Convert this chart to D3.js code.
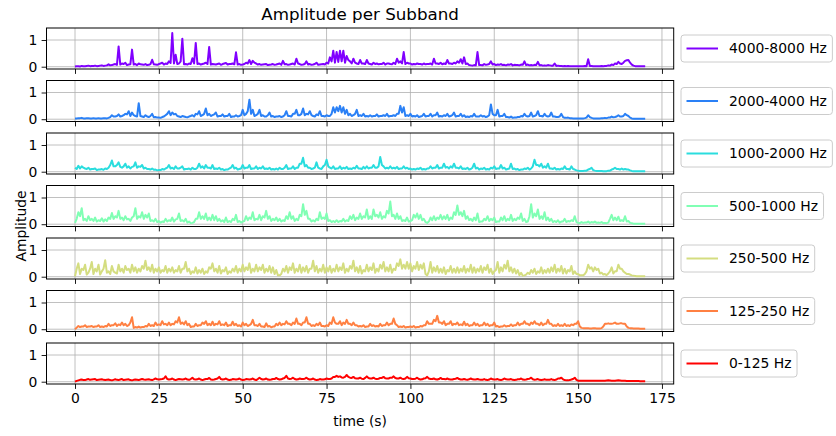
<!DOCTYPE html>
<html><head><meta charset="utf-8">
<script src="https://cdn.jsdelivr.net/npm/d3@7"></script>
<style>body{margin:0;background:#fff}svg{display:block}text{font-family:"DejaVu Sans",sans-serif;fill:#000}</style>
</head><body><svg id="c" width="836" height="436"></svg>
<script>
// ---- data ----
// values read at whole seconds (0..170) and at half seconds (0.5..169.5)
const secondsWhole = d3.range(0, 171);
const secondsHalf = d3.range(0.5, 170, 1);
const bandLabels = ["4000-8000 Hz","2000-4000 Hz","1000-2000 Hz","500-1000 Hz","250-500 Hz","125-250 Hz","0-125 Hz"];
const bandColors = ["#8000ff","#2a80f6","#2addde","#80ffb4","#d4dd80","#ff8042","#ff0000"];
const xTicks = [0,25,50,75,100,125,150,175];
const yTicks = [0,1];

const amp4000 = [0.01,0.02,0.03,0.02,0.04,0.03,0.04,0.03,0.05,0.04,
0.09,0.06,0.1,0.76,0.12,0.15,0.08,0.64,0.1,0.12,
0.08,0.1,0.07,0.26,0.08,0.1,0.15,0.12,0.2,1.26,
0.45,0.12,1.05,0.1,0.12,0.32,0.89,0.12,0.1,0.15,
0.74,0.1,0.08,0.12,0.1,0.14,0.1,0.12,0.54,0.1,
0.08,0.15,0.25,0.22,0.12,0.1,0.08,0.1,0.07,0.1,
0.08,0.12,0.22,0.1,0.08,0.12,0.3,0.1,0.08,0.2,
0.1,0.08,0.15,0.08,0.1,0.15,0.35,0.6,0.55,0.6,
0.6,0.4,0.2,0.3,0.12,0.25,0.12,0.25,0.1,0.15,
0.12,0.1,0.15,0.12,0.1,0.15,0.3,0.2,0.55,0.15,
0.12,0.1,0.12,0.1,0.12,0.1,0.12,0.3,0.12,0.15,
0.12,0.25,0.12,0.15,0.2,0.28,0.35,0.12,0.05,0.06,
0.55,0.06,0.1,0.08,0.2,0.1,0.08,0.1,0.07,0.08,
0.1,0.07,0.06,0.08,0.2,0.08,0.06,0.07,0.18,0.06,
0.05,0.06,0.04,0.12,0.04,0.03,0.03,0.03,0.02,0.02,
0.02,0.02,0.03,0.28,0.03,0.02,0.02,0.03,0.03,0.05,
0.08,0.12,0.18,0.1,0.22,0.25,0.08,0.02,0.02,0.02,
0.02];
const amp4000Half = [0.02,0.01,0.02,0.03,0.02,0.03,0.02,0.04,0.03,0.05,
0.05,0.08,0.07,0.08,0.1,0.06,0.09,0.08,0.06,0.09,
0.07,0.06,0.1,0.09,0.07,0.12,0.08,0.1,0.14,0.12,
0.1,0.2,0.09,0.08,0.1,0.12,0.1,0.08,0.12,0.1,
0.08,0.09,0.1,0.07,0.12,0.08,0.1,0.09,0.08,0.07,
0.1,0.12,0.1,0.15,0.08,0.07,0.09,0.06,0.08,0.07,
0.1,0.07,0.09,0.07,0.1,0.08,0.12,0.07,0.1,0.08,
0.07,0.1,0.07,0.09,0.08,0.12,0.2,0.15,0.18,0.2,
0.15,0.25,0.12,0.15,0.1,0.12,0.1,0.12,0.08,0.1,
0.09,0.1,0.08,0.12,0.09,0.1,0.15,0.12,0.1,0.12,
0.08,0.09,0.1,0.08,0.09,0.1,0.08,0.12,0.1,0.09,
0.1,0.12,0.1,0.12,0.15,0.12,0.1,0.06,0.04,0.05,
0.06,0.05,0.07,0.1,0.08,0.06,0.07,0.06,0.05,0.07,
0.05,0.06,0.05,0.07,0.06,0.05,0.05,0.06,0.05,0.04,
0.04,0.05,0.04,0.03,0.03,0.02,0.02,0.02,0.02,0.02,
0.02,0.02,0.02,0.03,0.02,0.02,0.02,0.02,0.03,0.04,
0.06,0.1,0.12,0.15,0.24,0.15,0.04,0.02,0.02,0.02];

const amp2000 = [0.03,0.04,0.05,0.03,0.04,0.03,0.03,0.04,0.03,0.04,
0.05,0.15,0.1,0.18,0.12,0.2,0.3,0.25,0.12,0.6,
0.1,0.15,0.08,0.2,0.08,0.06,0.08,0.15,0.3,0.25,
0.2,0.1,0.12,0.08,0.1,0.15,0.2,0.3,0.15,0.4,
0.2,0.15,0.25,0.12,0.18,0.12,0.2,0.1,0.15,0.12,
0.35,0.2,0.73,0.35,0.15,0.35,0.15,0.1,0.25,0.12,
0.1,0.12,0.1,0.3,0.12,0.2,0.35,0.15,0.4,0.2,
0.3,0.12,0.18,0.3,0.12,0.15,0.12,0.45,0.45,0.5,
0.45,0.35,0.2,0.15,0.35,0.15,0.2,0.12,0.15,0.12,
0.18,0.12,0.15,0.2,0.12,0.15,0.2,0.5,0.45,0.15,
0.2,0.12,0.15,0.1,0.2,0.12,0.2,0.15,0.25,0.12,
0.15,0.2,0.12,0.25,0.12,0.2,0.15,0.1,0.12,0.2,
0.1,0.15,0.12,0.1,0.55,0.15,0.35,0.12,0.2,0.08,
0.1,0.06,0.08,0.12,0.2,0.1,0.25,0.12,0.3,0.12,
0.2,0.1,0.25,0.1,0.08,0.2,0.05,0.06,0.04,0.03,
0.03,0.03,0.04,0.15,0.05,0.03,0.03,0.04,0.05,0.06,
0.1,0.08,0.15,0.1,0.2,0.12,0.03,0.02,0.02,0.02,
0.02];
const amp2000Half = [0.03,0.04,0.03,0.04,0.03,0.04,0.03,0.03,0.04,0.03,
0.08,0.1,0.12,0.1,0.15,0.18,0.12,0.15,0.1,0.12,
0.08,0.1,0.12,0.07,0.06,0.05,0.1,0.2,0.15,0.18,
0.12,0.08,0.1,0.07,0.12,0.1,0.18,0.12,0.2,0.15,
0.12,0.18,0.1,0.12,0.1,0.12,0.08,0.1,0.1,0.15,
0.15,0.3,0.2,0.12,0.2,0.12,0.1,0.15,0.1,0.08,
0.1,0.08,0.15,0.12,0.1,0.2,0.15,0.2,0.15,0.18,
0.15,0.1,0.15,0.12,0.1,0.12,0.2,0.25,0.3,0.25,
0.2,0.15,0.12,0.2,0.12,0.12,0.1,0.1,0.1,0.12,
0.1,0.12,0.12,0.1,0.12,0.12,0.2,0.25,0.12,0.12,
0.1,0.1,0.08,0.12,0.1,0.12,0.1,0.15,0.1,0.1,
0.12,0.1,0.15,0.1,0.12,0.1,0.08,0.08,0.1,0.1,
0.1,0.1,0.08,0.15,0.2,0.15,0.1,0.12,0.08,0.06,
0.05,0.06,0.08,0.1,0.12,0.12,0.1,0.15,0.12,0.1,
0.12,0.12,0.1,0.08,0.1,0.08,0.05,0.04,0.03,0.03,
0.03,0.03,0.06,0.08,0.03,0.03,0.03,0.04,0.04,0.06,
0.07,0.1,0.1,0.12,0.15,0.06,0.02,0.02,0.02,0.02];

const amp1000 = [0.15,0.22,0.2,0.12,0.15,0.1,0.12,0.08,0.1,0.12,
0.15,0.42,0.2,0.35,0.15,0.3,0.2,0.18,0.35,0.2,
0.25,0.15,0.1,0.12,0.08,0.06,0.1,0.12,0.25,0.15,
0.2,0.12,0.2,0.1,0.12,0.15,0.1,0.3,0.2,0.25,
0.15,0.25,0.12,0.15,0.1,0.08,0.12,0.25,0.15,0.1,
0.25,0.15,0.25,0.12,0.2,0.15,0.2,0.12,0.15,0.1,
0.12,0.15,0.1,0.25,0.12,0.2,0.15,0.3,0.52,0.25,
0.15,0.12,0.35,0.12,0.2,0.45,0.15,0.2,0.12,0.2,
0.15,0.18,0.12,0.15,0.22,0.12,0.18,0.2,0.15,0.25,
0.15,0.55,0.2,0.15,0.2,0.15,0.18,0.12,0.2,0.15,
0.12,0.1,0.12,0.15,0.1,0.12,0.2,0.15,0.25,0.15,
0.3,0.18,0.2,0.3,0.15,0.2,0.12,0.15,0.1,0.3,
0.15,0.12,0.15,0.1,0.15,0.2,0.12,0.25,0.15,0.1,
0.3,0.12,0.1,0.08,0.12,0.15,0.12,0.45,0.25,0.3,
0.2,0.3,0.12,0.15,0.1,0.12,0.2,0.1,0.2,0.08,
0.04,0.03,0.04,0.08,0.15,0.04,0.03,0.03,0.02,0.04,
0.08,0.15,0.1,0.12,0.1,0.08,0.03,0.02,0.02,0.02,
0.02];
const amp1000Half = [0.1,0.12,0.15,0.1,0.08,0.1,0.06,0.08,0.07,0.1,
0.25,0.2,0.25,0.18,0.2,0.15,0.12,0.2,0.15,0.18,
0.12,0.1,0.08,0.07,0.05,0.06,0.08,0.15,0.12,0.1,
0.12,0.15,0.08,0.1,0.08,0.1,0.15,0.15,0.12,0.15,
0.12,0.1,0.1,0.08,0.06,0.08,0.15,0.12,0.08,0.12,
0.12,0.15,0.1,0.12,0.1,0.12,0.1,0.1,0.08,0.08,
0.08,0.1,0.15,0.1,0.12,0.1,0.15,0.3,0.2,0.15,
0.1,0.15,0.15,0.1,0.25,0.2,0.12,0.1,0.12,0.1,
0.12,0.1,0.1,0.12,0.12,0.1,0.12,0.12,0.15,0.15,
0.2,0.25,0.12,0.12,0.12,0.12,0.1,0.12,0.12,0.1,
0.08,0.08,0.1,0.08,0.08,0.12,0.12,0.15,0.12,0.15,
0.15,0.12,0.15,0.15,0.12,0.1,0.1,0.08,0.15,0.12,
0.08,0.1,0.08,0.08,0.12,0.1,0.12,0.12,0.08,0.12,
0.1,0.08,0.06,0.08,0.1,0.08,0.2,0.25,0.2,0.15,
0.15,0.12,0.1,0.08,0.08,0.1,0.1,0.08,0.1,0.05,
0.03,0.03,0.04,0.1,0.06,0.03,0.03,0.02,0.02,0.04,
0.1,0.1,0.08,0.08,0.08,0.05,0.02,0.02,0.02,0.02];

const amp500 = [0.05,0.45,0.6,0.2,0.3,0.2,0.25,0.15,0.22,0.18,
0.25,0.42,0.3,0.5,0.25,0.3,0.2,0.25,0.6,0.3,
0.45,0.35,0.4,0.15,0.2,0.12,0.1,0.2,0.15,0.25,
0.18,0.4,0.15,0.2,0.1,0.05,0.2,0.45,0.3,0.4,
0.25,0.35,0.3,0.2,0.15,0.25,0.12,0.2,0.35,0.12,
0.1,0.3,0.25,0.45,0.2,0.35,0.3,0.5,0.3,0.2,
0.25,0.2,0.15,0.3,0.45,0.3,0.2,0.35,0.75,0.5,
0.2,0.15,0.2,0.45,0.25,0.4,0.15,0.12,0.15,0.12,
0.2,0.15,0.3,0.35,0.25,0.4,0.3,0.55,0.3,0.55,
0.35,0.45,0.3,0.5,0.85,0.35,0.4,0.3,0.15,0.25,
0.12,0.35,0.4,0.35,0.2,0.05,0.25,0.3,0.25,0.35,
0.3,0.35,0.25,0.45,0.7,0.45,0.5,0.3,0.2,0.25,
0.4,0.1,0.2,0.3,0.2,0.25,0.1,0.25,0.3,0.2,
0.35,0.2,0.25,0.4,0.2,0.1,0.75,0.4,0.55,0.3,
0.45,0.25,0.2,0.12,0.15,0.1,0.2,0.12,0.15,0.3,
0.05,0.08,0.06,0.1,0.08,0.1,0.06,0.08,0.05,0.06,
0.35,0.25,0.28,0.15,0.3,0.12,0.04,0.02,0.02,0.02,
0.02];
const amp500Half = [0.2,0.3,0.15,0.12,0.15,0.12,0.1,0.12,0.1,0.12,
0.2,0.2,0.25,0.2,0.15,0.18,0.12,0.3,0.2,0.25,
0.2,0.25,0.12,0.1,0.08,0.06,0.08,0.1,0.12,0.1,
0.2,0.12,0.1,0.06,0.04,0.08,0.2,0.2,0.2,0.15,
0.15,0.15,0.12,0.1,0.08,0.08,0.08,0.15,0.08,0.06,
0.12,0.15,0.2,0.15,0.18,0.15,0.25,0.2,0.12,0.15,
0.12,0.1,0.12,0.2,0.2,0.12,0.15,0.3,0.35,0.2,
0.1,0.1,0.15,0.2,0.2,0.12,0.08,0.08,0.08,0.1,
0.1,0.12,0.2,0.15,0.2,0.2,0.25,0.2,0.2,0.3,
0.25,0.2,0.25,0.4,0.3,0.2,0.2,0.12,0.12,0.1,
0.15,0.25,0.2,0.15,0.08,0.1,0.15,0.15,0.2,0.18,
0.2,0.15,0.2,0.35,0.35,0.3,0.2,0.15,0.12,0.15,
0.08,0.1,0.15,0.12,0.15,0.08,0.1,0.15,0.12,0.15,
0.12,0.15,0.2,0.12,0.08,0.3,0.25,0.3,0.2,0.2,
0.15,0.12,0.08,0.08,0.06,0.1,0.08,0.1,0.12,0.08,
0.04,0.05,0.06,0.05,0.06,0.05,0.05,0.04,0.04,0.2,
0.15,0.15,0.12,0.12,0.1,0.05,0.02,0.02,0.02,0.02];

const amp250 = [0.02,0.5,0.3,0.45,0.15,0.55,0.3,0.45,0.2,0.62,
0.2,0.4,0.15,0.45,0.3,0.4,0.3,0.45,0.35,0.3,
0.4,0.6,0.35,0.45,0.3,0.35,0.25,0.4,0.3,0.35,
0.25,0.4,0.3,0.55,0.3,0.2,0.35,0.25,0.3,0.2,
0.35,0.5,0.3,0.4,0.25,0.35,0.2,0.3,0.4,0.3,
0.45,0.35,0.5,0.3,0.45,0.35,0.45,0.3,0.4,0.35,
0.25,0.05,0.3,0.4,0.35,0.5,0.3,0.45,0.35,0.4,
0.3,0.6,0.4,0.3,0.45,0.35,0.4,0.3,0.45,0.35,
0.5,0.3,0.4,0.6,0.35,0.4,0.25,0.45,0.35,0.5,
0.3,0.45,0.55,0.35,0.45,0.3,0.5,0.65,0.45,0.55,
0.5,0.4,0.55,0.45,0.5,0.05,0.55,0.35,0.4,0.3,
0.35,0.25,0.4,0.3,0.35,0.3,0.4,0.3,0.45,0.35,
0.3,0.4,0.35,0.45,0.3,0.2,0.55,0.35,0.45,0.6,
0.35,0.3,0.25,0.15,0.05,0.15,0.25,0.3,0.2,0.35,
0.25,0.3,0.35,0.45,0.3,0.4,0.3,0.25,0.4,0.2,
0.1,0.05,0.1,0.45,0.35,0.35,0.3,0.15,0.1,0.12,
0.35,0.2,0.45,0.3,0.15,0.1,0.05,0.03,0.02,0.02,
0.02];
const amp250Half = [0.3,0.1,0.25,0.08,0.3,0.1,0.2,0.08,0.3,0.15,
0.1,0.2,0.12,0.2,0.15,0.25,0.15,0.2,0.15,0.2,
0.3,0.25,0.2,0.15,0.2,0.15,0.2,0.15,0.2,0.15,
0.2,0.15,0.3,0.2,0.1,0.15,0.12,0.15,0.1,0.15,
0.3,0.2,0.15,0.12,0.2,0.1,0.15,0.2,0.15,0.2,
0.2,0.25,0.15,0.2,0.2,0.25,0.15,0.2,0.15,0.1,
0.05,0.1,0.2,0.15,0.25,0.15,0.2,0.15,0.2,0.15,
0.3,0.2,0.15,0.2,0.15,0.2,0.15,0.2,0.2,0.25,
0.15,0.2,0.3,0.2,0.15,0.12,0.2,0.2,0.25,0.15,
0.2,0.3,0.2,0.2,0.15,0.25,0.4,0.3,0.3,0.3,
0.2,0.3,0.25,0.3,0.1,0.2,0.15,0.2,0.15,0.15,
0.1,0.2,0.15,0.15,0.15,0.2,0.15,0.2,0.15,0.15,
0.2,0.15,0.25,0.15,0.1,0.25,0.15,0.2,0.3,0.2,
0.15,0.12,0.06,0.04,0.08,0.1,0.15,0.1,0.15,0.12,
0.15,0.15,0.2,0.15,0.2,0.12,0.12,0.2,0.1,0.1,
0.05,0.05,0.2,0.3,0.2,0.25,0.12,0.08,0.06,0.2,
0.12,0.2,0.3,0.2,0.1,0.08,0.04,0.02,0.02,0.02];

const amp125 = [0.0,0.12,0.1,0.15,0.1,0.12,0.1,0.15,0.1,0.12,
0.2,0.15,0.22,0.18,0.25,0.2,0.15,0.45,0.08,0.1,
0.08,0.12,0.2,0.15,0.25,0.18,0.3,0.2,0.25,0.2,
0.3,0.45,0.25,0.3,0.2,0.1,0.2,0.15,0.25,0.3,
0.2,0.28,0.2,0.3,0.18,0.25,0.15,0.28,0.2,0.15,
0.25,0.2,0.15,0.35,0.15,0.2,0.1,0.22,0.12,0.1,
0.2,0.25,0.2,0.3,0.2,0.25,0.4,0.2,0.25,0.45,
0.2,0.15,0.2,0.25,0.12,0.15,0.25,0.45,0.2,0.3,
0.25,0.35,0.2,0.25,0.15,0.12,0.15,0.1,0.2,0.15,
0.12,0.2,0.15,0.25,0.2,0.4,0.15,0.1,0.12,0.08,
0.1,0.12,0.08,0.12,0.15,0.3,0.2,0.35,0.5,0.25,
0.3,0.2,0.3,0.2,0.25,0.18,0.28,0.2,0.15,0.25,
0.2,0.15,0.25,0.2,0.15,0.25,0.12,0.1,0.15,0.12,
0.18,0.15,0.25,0.2,0.3,0.2,0.25,0.3,0.2,0.25,
0.2,0.35,0.2,0.15,0.2,0.15,0.2,0.15,0.18,0.2,
0.3,0.05,0.04,0.04,0.03,0.04,0.03,0.04,0.2,0.22,
0.2,0.25,0.2,0.22,0.2,0.05,0.04,0.03,0.03,0.02,
0.02];
const amp125Half = [0.06,0.08,0.1,0.08,0.1,0.08,0.1,0.08,0.08,0.1,
0.12,0.15,0.12,0.15,0.15,0.12,0.25,0.05,0.06,0.06,
0.08,0.1,0.12,0.12,0.15,0.15,0.18,0.15,0.15,0.18,
0.25,0.2,0.18,0.15,0.08,0.1,0.12,0.15,0.2,0.15,
0.15,0.15,0.18,0.15,0.15,0.12,0.15,0.15,0.12,0.1,
0.15,0.12,0.2,0.15,0.12,0.1,0.08,0.1,0.07,0.1,
0.15,0.15,0.18,0.2,0.15,0.2,0.2,0.15,0.25,0.2,
0.12,0.12,0.15,0.12,0.1,0.12,0.2,0.25,0.2,0.15,
0.2,0.2,0.15,0.15,0.1,0.1,0.08,0.1,0.12,0.1,
0.1,0.12,0.15,0.15,0.2,0.2,0.08,0.08,0.06,0.08,
0.08,0.06,0.08,0.1,0.15,0.2,0.2,0.3,0.25,0.2,
0.15,0.2,0.15,0.18,0.15,0.15,0.15,0.12,0.15,0.15,
0.12,0.15,0.15,0.12,0.15,0.1,0.08,0.1,0.1,0.12,
0.12,0.15,0.15,0.2,0.2,0.15,0.2,0.2,0.15,0.15,
0.2,0.2,0.12,0.12,0.12,0.12,0.12,0.12,0.15,0.2,
0.1,0.04,0.04,0.03,0.04,0.03,0.03,0.1,0.2,0.2,
0.22,0.2,0.22,0.2,0.1,0.04,0.03,0.03,0.02,0.02];

const amp0 = [0.0,0.05,0.08,0.06,0.1,0.08,0.1,0.07,0.09,0.06,
0.08,0.05,0.09,0.06,0.1,0.07,0.09,0.05,0.08,0.06,
0.1,0.07,0.09,0.06,0.12,0.08,0.1,0.2,0.08,0.12,
0.06,0.1,0.08,0.12,0.07,0.15,0.08,0.12,0.06,0.1,
0.14,0.07,0.1,0.18,0.08,0.12,0.06,0.1,0.08,0.12,
0.06,0.1,0.08,0.12,0.06,0.15,0.08,0.12,0.07,0.1,
0.14,0.08,0.12,0.22,0.1,0.15,0.08,0.12,0.1,0.15,
0.08,0.12,0.06,0.1,0.08,0.12,0.1,0.18,0.22,0.2,
0.15,0.25,0.15,0.18,0.12,0.15,0.1,0.2,0.12,0.15,
0.1,0.14,0.18,0.12,0.15,0.2,0.12,0.15,0.1,0.18,
0.12,0.1,0.15,0.08,0.12,0.18,0.1,0.12,0.08,0.14,
0.1,0.12,0.08,0.1,0.14,0.08,0.1,0.07,0.12,0.08,
0.1,0.07,0.1,0.06,0.12,0.08,0.1,0.06,0.12,0.08,
0.1,0.06,0.09,0.12,0.07,0.1,0.15,0.07,0.1,0.06,
0.09,0.07,0.1,0.06,0.12,0.15,0.06,0.05,0.08,0.15,
0.04,0.04,0.04,0.04,0.04,0.035,0.035,0.035,0.04,0.05,
0.04,0.04,0.05,0.04,0.035,0.03,0.03,0.03,0.025,0.02,
0.02];
const amp0Half = [0.03,0.07,0.06,0.08,0.07,0.09,0.06,0.08,0.07,0.07,
0.06,0.07,0.07,0.08,0.06,0.08,0.06,0.07,0.07,0.08,
0.08,0.08,0.07,0.09,0.09,0.09,0.12,0.1,0.09,0.08,
0.08,0.09,0.09,0.08,0.1,0.09,0.09,0.08,0.08,0.1,
0.08,0.08,0.12,0.1,0.09,0.08,0.07,0.09,0.09,0.08,
0.07,0.09,0.09,0.08,0.1,0.1,0.09,0.08,0.08,0.1,
0.1,0.09,0.14,0.12,0.11,0.1,0.09,0.1,0.11,0.1,
0.09,0.08,0.07,0.08,0.09,0.1,0.12,0.18,0.18,0.16,
0.18,0.18,0.14,0.13,0.12,0.11,0.14,0.14,0.12,0.11,
0.11,0.14,0.13,0.12,0.15,0.14,0.12,0.11,0.12,0.13,
0.1,0.11,0.1,0.09,0.13,0.12,0.1,0.09,0.1,0.1,
0.09,0.09,0.08,0.11,0.1,0.08,0.08,0.09,0.09,0.08,
0.08,0.07,0.07,0.08,0.09,0.08,0.07,0.08,0.09,0.08,
0.07,0.07,0.09,0.08,0.08,0.11,0.09,0.08,0.07,0.07,
0.07,0.07,0.07,0.08,0.12,0.09,0.05,0.06,0.1,0.07,
0.04,0.04,0.04,0.04,0.04,0.035,0.035,0.035,0.045,0.045,
0.04,0.045,0.045,0.04,0.03,0.03,0.03,0.025,0.02,0.02];

const wholeSeries = [amp4000, amp2000, amp1000, amp500, amp250, amp125, amp0];
const halfSeries = [amp4000Half, amp2000Half, amp1000Half, amp500Half, amp250Half, amp125Half, amp0Half];

// merge whole-second and half-second readings into one time-ordered table
function mergeSeries(whole, half) {
  const pts = [];
  secondsWhole.forEach((t, k) => {
    pts.push({t, v: whole[k]});
    if (k < half.length) pts.push({t: secondsHalf[k], v: half[k]});
  });
  return pts;
}

// ---- layout ----
const svg = d3.select("#c");
const left = 46.5, right = 673.7;
const panelTop0 = 28, panelStep = 52.5, panelH = 41;
const x = d3.scaleLinear().domain([-8.5, 178.5]).range([left, right]);
const FS = 13.9;

svg.append("rect").attr("width",836).attr("height",436).attr("fill","#fff");

wholeSeries.forEach((whole, i) => {
  const pts = mergeSeries(whole, halfSeries[i]);
  const top = panelTop0 + i * panelStep;
  const y = d3.scaleLinear().domain([-0.086, 1.45]).range([top + panelH, top]);
  const g = svg.append("g");

  // grid
  g.selectAll(".gx").data(xTicks).join("line")
    .attr("x1", d => x(d)).attr("x2", d => x(d))
    .attr("y1", top).attr("y2", top + panelH)
    .attr("stroke", "#b0b0b0").attr("stroke-width", 0.8);
  g.selectAll(".gy").data(yTicks).join("line")
    .attr("x1", left).attr("x2", right)
    .attr("y1", d => y(d)).attr("y2", d => y(d))
    .attr("stroke", "#b0b0b0").attr("stroke-width", 0.8);

  // data line
  const line = d3.line().x(d => x(d.t)).y(d => y(d.v));
  g.append("clipPath").attr("id", "cp" + i).append("rect")
    .attr("x", left).attr("y", top).attr("width", right - left).attr("height", panelH);
  g.append("path").datum(pts)
    .attr("clip-path", `url(#cp${i})`)
    .attr("d", line).attr("fill", "none")
    .attr("stroke", bandColors[i]).attr("stroke-width", 2)
    .attr("stroke-linejoin", "round");

  // axes
  const xa = d3.axisBottom(x).tickValues(xTicks).tickSize(4.9).tickPadding(4.2)
    .tickFormat(i === wholeSeries.length - 1 ? d3.format("d") : () => "");
  const gx = g.append("g").attr("transform", `translate(0,${top + panelH})`).call(xa);
  const ya = d3.axisLeft(y).tickValues(yTicks).tickSize(4.9).tickPadding(4.2).tickFormat(d3.format("d"));
  const gy = g.append("g").attr("transform", `translate(${left},0)`).call(ya);
  [gx, gy].forEach(a => {
    a.select(".domain").remove();
    a.selectAll("line").attr("stroke", "#000").attr("stroke-width", 0.9);
    a.selectAll("text").attr("font-size", FS).attr("font-family", "DejaVu Sans").attr("fill", "#000");
  });

  // frame
  g.append("rect").attr("x", left).attr("y", top).attr("width", right - left).attr("height", panelH)
    .attr("fill", "none").attr("stroke", "#000").attr("stroke-width", 1);

  // legend
  const cy = top + panelH / 2;
  const lg = svg.append("g");
  const box = lg.append("rect").attr("x", 681).attr("y", cy - 13.5).attr("height", 27)
    .attr("rx", 3).attr("fill", "#fff").attr("fill-opacity", 0.8)
    .attr("stroke", "#cccccc").attr("stroke-width", 1);
  lg.append("line").attr("x1", 686.5).attr("x2", 718).attr("y1", cy).attr("y2", cy)
    .attr("stroke", bandColors[i]).attr("stroke-width", 2);
  const t = lg.append("text").attr("x", 729).attr("y", cy).attr("dy", "0.35em")
    .attr("font-size", FS).text(bandLabels[i]);
  const w = t.node().getComputedTextLength();
  box.attr("width", 729 + w + 5.5 - 681);
});

// title and labels
svg.append("text").attr("x", (left + right) / 2).attr("y", 14).attr("dy", "0.35em")
  .attr("text-anchor", "middle").attr("font-size", 16.7).text("Amplitude per Subband");
svg.append("text").attr("x", (left + right) / 2).attr("y", 421).attr("dy", "0.35em")
  .attr("text-anchor", "middle").attr("font-size", FS).text("time (s)");
svg.append("text").attr("transform", "translate(21,226) rotate(-90)").attr("dy", "0.35em")
  .attr("text-anchor", "middle").attr("font-size", FS).text("Amplitude");
</script></body></html>
